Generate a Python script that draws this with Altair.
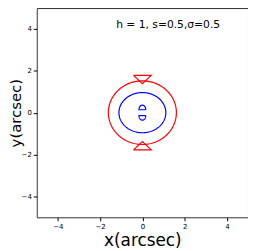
import numpy as np
import pandas as pd
import altair as alt

# read parameters of curves (arcsec)
red_ellipse = [1.61, 1.52]          # rx, ry
blue_ellipse = [1.11, 0.96]         # rx, ry
tri_top_x = [-0.42, 0.42, 0.0, -0.42]
tri_top_y = [1.78, 1.78, 1.38, 1.78]
tri_bot_x = [-0.42, 0.42, 0.0, -0.42]
tri_bot_y = [-1.78, -1.78, -1.38, -1.78]
dome = [0.16, 0.14, 0.22]           # half width, base offset, height

rows = []

def add(path, xs, ys, col):
    for i, (a, b) in enumerate(zip(xs, ys)):
        rows.append({"x": a, "y": b, "path": path, "o": i, "col": col})

t = np.linspace(0, 2 * np.pi, 181)
add("red_ell", red_ellipse[0] * np.cos(t), red_ellipse[1] * np.sin(t), "#ff0000")
add("red_top", tri_top_x, tri_top_y, "#ff0000")
add("red_bot", tri_bot_x, tri_bot_y, "#ff0000")
add("blue_ell", blue_ellipse[0] * np.cos(t), blue_ellipse[1] * np.sin(t), "#0000ff")
s = np.linspace(0, np.pi, 40)
dx = list(dome[0] * np.cos(s)) + [dome[0]]
dyu = list(dome[1] + dome[2] * np.sin(s)) + [dome[1]]
dyl = list(-dome[1] - dome[2] * np.sin(s)) + [-dome[1]]
add("blue_up", dx, dyu, "#0000ff")
add("blue_lo", dx, dyl, "#0000ff")
df = pd.DataFrame(rows)

ticks = [-4, -2, 0, 2, 4]
xaxis = alt.Axis(values=ticks, grid=False, domain=False, tickColor="black", labelColor="black",
                 labelFontSize=7, tickSize=3.5, labelPadding=2, title="x(arcsec)",
                 titleFontSize=17, titleFontWeight="normal", titleColor="black",
                 titleFont="DejaVu Sans", labelFont="DejaVu Sans", titlePadding=3)
yaxis = alt.Axis(values=ticks, grid=False, domain=False, tickColor="black", labelColor="black",
                 labelFontSize=7, tickSize=3.5, labelPadding=2, title="y(arcsec)",
                 titleFontSize=15, titleFontWeight="normal", titleColor="black",
                 titleFont="DejaVu Sans", labelFont="DejaVu Sans",
                 titleX=-21, titleBaseline="middle")

lines = alt.Chart(df).mark_line(strokeWidth=1.2, clip=True).encode(
    x=alt.X("x:Q", scale=alt.Scale(domain=[-5, 5], nice=False, zero=False), axis=xaxis),
    y=alt.Y("y:Q", scale=alt.Scale(domain=[-5, 5], nice=False, zero=False), axis=yaxis),
    detail="path:N",
    order="o:Q",
    color=alt.Color("col:N", scale=None),
)

label = pd.DataFrame({"x": [-1.24], "y": [4.2], "t": ["h = 1, s=0.5,σ=0.5"]})
text = alt.Chart(label).mark_text(align="left", baseline="middle", fontSize=10.8,
                                  font="DejaVu Sans", color="black").encode(
    x="x:Q", y="y:Q", text="t:N")

chart = alt.layer(lines, text).properties(
    width=213, height=211,
    autosize=alt.AutoSizeParams(type="none"),
    padding={"left": 29, "top": -1, "right": 0, "bottom": 40},
).configure_view(stroke="#333333", strokeWidth=1)

chart.save("out.html", embed_options={"renderer": "svg", "actions": False})
